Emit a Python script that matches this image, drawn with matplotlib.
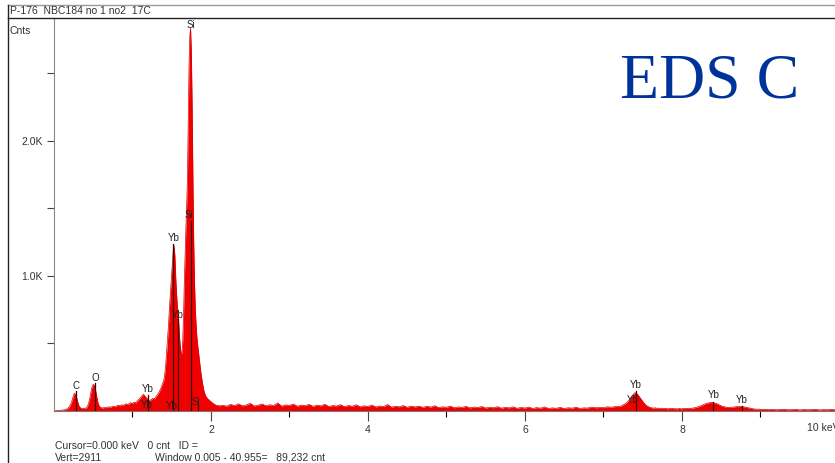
"""EDS 스펙트럼 (EDS C) 재현 — out.png 835x463."""
import numpy as np
import matplotlib
matplotlib.use("Agg")
import matplotlib.pyplot as plt

plt.rcParams["font.family"] = ["Liberation Sans", "DejaVu Sans"]

# counts per channel (segments with their own channel step)
LOW_START, LOW_STEP = 0.00, 0.02
LOW_COUNTS = [0, 2, 3, 4, 5, 6, 8, 10, 14, 22, 35, 60, 100, 132, 120, 70, 35, 22, 18, 20,
              19, 28, 55, 105, 170, 198, 185, 120, 60, 32, 25, 22, 26, 24, 28, 31, 27, 34, 36, 31,
              39, 43, 37, 46, 41, 49, 53, 47, 56, 62, 54, 66, 60, 74, 86, 98, 112, 124, 108, 96,
              84, 78, 86, 94, 90, 108, 122, 142, 166, 198]
MAIN_START, MAIN_STEP = 1.40, 0.01
MAIN_COUNTS = [230, 270, 320, 400, 470, 560, 650, 760, 850, 940,
               1040, 1130, 1200, 1225, 1150, 1000, 880, 790, 720, 640,
               540, 470, 420, 430, 520, 700, 950, 1150, 1350, 1520,
               1720, 2150, 2550, 2780, 2835, 2650, 2250, 1700, 1250, 950,
               760, 640, 550, 490, 440, 390, 340, 290, 250, 210,
               180, 150, 130, 115, 105, 96, 90, 84, 80, 74,
               70, 64, 60, 55, 52, 48, 45, 42, 40, 42, 38]
BG_START, BG_STEP = 2.15, 0.05
BG_COUNTS = [42, 36, 49, 40, 53, 38, 44, 57, 37, 43, 52, 39, 46, 41, 60, 36, 45, 42, 51, 35,
             44, 39, 49, 34, 43, 38, 50, 33, 40, 37, 47, 32, 41, 35, 46, 31, 38, 34, 44, 30,
             37, 33, 48, 29, 35, 31, 40, 28, 36, 30, 36, 27, 35, 29, 39, 25, 31, 28, 36, 24,
             30, 27, 34, 23, 29, 26, 33, 22, 28, 24, 32, 21, 27, 23, 31, 20, 26, 22, 29, 19,
             25, 21, 30, 19, 23, 20, 27, 18, 24, 21, 28, 19, 23, 22, 29, 24, 26, 25, 31, 28, 33]
YBL_START, YBL_STEP = 7.20, 0.02
YBL_COUNTS = [33, 36, 42, 48, 55, 64, 78, 92, 108, 122, 136, 131, 120, 104, 88, 72, 56, 44, 36, 30,
              26, 23, 21, 24, 19, 22, 18, 21, 17, 20, 18, 16, 19, 17, 20, 16, 18, 15, 19, 17,
              16, 19, 17, 20, 18, 21, 19, 22, 24, 27, 30, 34, 39, 44, 49, 54, 57, 60, 63, 62,
              64, 58, 55, 49, 44, 38, 34, 31, 29, 27, 26, 28, 27, 30, 31, 33, 32, 34, 33, 31,
              29, 27, 24, 22, 20, 17, 15, 14, 13, 14, 12]
TAIL_START, TAIL_STEP = 9.05, 0.05
TAIL_COUNTS = [13, 10, 12, 9, 11, 13, 9, 10, 12, 8, 11, 9, 10, 12, 8, 10, 9, 11, 9]

# peak labels: (text, keV, label height), marker lines: (keV, top)
LABELS = [("C", 0.277, 185), ("O", 0.525, 245), ("Yb", 1.20, 160), ("Yb", 1.18, 48),
          ("Yb", 1.52, 1278), ("Yb", 1.575, 712), ("Yb", 1.50, 38), ("Si", 1.74, 2862),
          ("Si", 1.72, 1452), ("Si", 1.81, 68), ("Yb", 7.414, 192), ("Yb", 7.37, 82),
          ("Yb", 8.40, 120), ("Yb", 8.76, 80)]
MARKERS = [(0.277, 145), (0.525, 205), (1.20, 120), (1.52, 1235), (1.575, 680),
           (1.745, 1410), (1.84, 55), (7.414, 150), (8.40, 70), (8.76, 40)]

Y_MAX = 2911
X_MAX = 9.95

segs = [(LOW_START, LOW_STEP, LOW_COUNTS), (MAIN_START, MAIN_STEP, MAIN_COUNTS),
        (BG_START, BG_STEP, BG_COUNTS), (YBL_START, YBL_STEP, YBL_COUNTS),
        (TAIL_START, TAIL_STEP, TAIL_COUNTS)]
energy = np.concatenate([s + st * np.arange(len(c)) for s, st, c in segs])
counts = np.concatenate([np.asarray(c, float) for _, _, c in segs])

W, H = 835, 463
fig = plt.figure(figsize=(W / 100, H / 100), dpi=100)
ax = fig.add_axes([54 / W, 52 / H, (W - 54) / W, (411 - 18) / H])

ax.fill_between(energy, counts, 0, color="#f00000", lw=0)
ax.plot(energy, counts, color="#d80000", lw=0.5)
for e, top in MARKERS:
    ax.plot([e, e], [0, top], color="#3a0000", lw=0.9)
for txt, e, y in LABELS:
    ax.text(e, y, txt, ha="center", va="center", fontsize=7, color="#222")

ax.set_xlim(0, X_MAX)
ax.set_ylim(0, Y_MAX)
for s in ("top", "right"):
    ax.spines[s].set_visible(False)
ax.spines["left"].set_color("#888")
ax.spines["bottom"].set_color("#777")
ax.set_xticks([2, 4, 6, 8])
ax.set_xticklabels(["2", "4", "6", "8"])
ax.set_xticks([1, 3, 5, 7, 9], minor=True)
ax.set_yticks([500, 1000, 1500, 2000, 2500])
ax.set_yticklabels(["", "1.0K", "", "2.0K", ""])
ax.tick_params(axis="both", labelsize=7.5, colors="#444", labelcolor="#333")
ax.tick_params(axis="x", which="major", length=7, width=0.8, pad=3)
ax.tick_params(axis="x", which="minor", length=4, width=0.8)
ax.tick_params(axis="y", length=5, width=0.8, pad=3)
ax.text((807 - 54) / 78.5, -125, "10 keV", fontsize=7.5, color="#333", ha="left",
        va="center", clip_on=False)

# frame / header
fig.add_artist(plt.Line2D([8 / W, 1], [1 - 5 / H] * 2, color="#999", lw=1))
fig.add_artist(plt.Line2D([8 / W, 1], [1 - 18 / H] * 2, color="#222", lw=1))
fig.add_artist(plt.Line2D([8 / W] * 2, [0, 1 - 5 / H], color="#222", lw=1))
fig.text(10 / W, 1 - 11.5 / H, "P-176  NBC184 no 1 no2  17C", fontsize=7.5, color="#333",
         va="center")
fig.text(10 / W, 1 - 31 / H, "Cnts", fontsize=7.5, color="#333", va="center")
fig.text(55 / W, 1 - 446 / H, "Cursor=0.000 keV   0 cnt   ID =", fontsize=7.5, color="#333",
         va="center")
fig.text(55 / W, 1 - 458 / H, "Vert=2911", fontsize=7.5, color="#333", va="center")
fig.text(155 / W, 1 - 458 / H, "Window 0.005 - 40.955=   89,232 cnt", fontsize=7.5,
         color="#333", va="center")

fig.text(620 / W, 1 - 97 / H, "EDS C", fontsize=46, color="#003399",
         family="Liberation Serif", va="baseline", ha="left")

fig.savefig("out.png", dpi=100)
